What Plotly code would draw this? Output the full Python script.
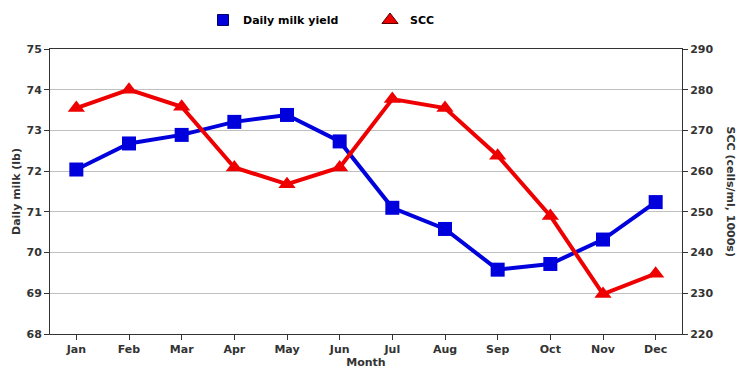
import plotly.graph_objects as go

months = ["Jan", "Feb", "Mar", "Apr", "May", "Jun", "Jul", "Aug", "Sep", "Oct", "Nov", "Dec"]
milk_yield = [72.04, 72.68, 72.89, 73.21, 73.38, 72.73, 71.10, 70.58, 69.58, 69.72, 70.32, 71.24]
scc = [275.5, 280.0, 275.8, 260.9, 256.8, 260.9, 277.7, 275.5, 263.8, 249.0, 229.8, 234.8]
milk_ticks = [68, 69, 70, 71, 72, 73, 74, 75]
scc_ticks = [220, 230, 240, 250, 260, 270, 280, 290]

BLUE = "#0000dd"
RED = "#ee0000"
TXT = "#333333"
FONT = "DejaVu Sans"

# the page body adds an 8px margin, so the figure is sized to fit the remaining window
W, H = 740, 369

fig = go.Figure()
fig.add_trace(go.Scatter(x=months, y=milk_yield, mode="lines+markers", name="Daily milk yield",
                         line=dict(color=BLUE, width=4),
                         marker=dict(symbol="square", size=14, color=BLUE),
                         showlegend=False, yaxis="y"))
fig.add_trace(go.Scatter(x=months, y=scc, mode="lines+markers", name="SCC",
                         line=dict(color=RED, width=4),
                         marker=dict(symbol="triangle-up", size=15, color=RED),
                         showlegend=False, yaxis="y2"))
# legend-only entries (marker only)
fig.add_trace(go.Scatter(x=[None], y=[None], mode="markers", name="Daily milk yield",
                         marker=dict(symbol="square", size=11, color=BLUE,
                                     line=dict(color="#000066", width=1))))
fig.add_trace(go.Scatter(x=[None], y=[None], mode="markers", name="SCC",
                         marker=dict(symbol="triangle-up", size=14, color=RED,
                                     line=dict(color="#550000", width=1))))

axis_font = dict(family=FONT, size=11, color=TXT, weight="bold")

fig.update_layout(
    width=W, height=H,
    margin=dict(l=42, r=66, t=41, b=43, autoexpand=False),
    paper_bgcolor="white", plot_bgcolor="white",
    font=dict(family=FONT, size=11, color=TXT),
    showlegend=True,
    legend=dict(orientation="h", xref="container", yref="container",
                x=195 / W, y=1 - 12 / H, xanchor="left", yanchor="middle",
                itemwidth=30, entrywidth=122,
                font=dict(family=FONT, size=11, color="#000000", weight="bold"),
                bgcolor="rgba(0,0,0,0)", borderwidth=0),
    xaxis=dict(type="category", range=[-0.5, 11.5],
               showline=True, linecolor=TXT, linewidth=1, mirror=True,
               ticks="outside", ticklen=5, tickcolor=TXT,
               showgrid=False, zeroline=False,
               tickfont=axis_font,
               title=dict(text="Month", font=dict(family=FONT, size=11, color=TXT, weight="bold"),
                          standoff=0)),
    yaxis=dict(range=[68, 75], tickvals=milk_ticks,
               showline=True, linecolor=TXT, linewidth=1,
               ticks="outside", ticklen=5, tickcolor=TXT,
               showgrid=True, gridcolor="#c0c0c0", gridwidth=1, zeroline=False,
               tickfont=axis_font,
               title=dict(text="Daily milk (lb)", font=dict(family=FONT, size=11, color=TXT, weight="bold"),
                          standoff=3)),
    yaxis2=dict(range=[220, 290], tickvals=scc_ticks, overlaying="y", side="right",
                showline=True, linecolor=TXT, linewidth=1,
                ticks="outside", ticklen=5, tickcolor=TXT,
                showgrid=False, zeroline=False,
                tickfont=axis_font),
    annotations=[dict(text="SCC (cells/ml, 1000s)", textangle=90,
                      xref="paper", yref="paper", x=1, y=0.5,
                      xshift=48, xanchor="center", yanchor="middle", showarrow=False,
                      font=dict(family=FONT, size=11, color=TXT, weight="bold"))],
)

fig.write_html("out.html")
